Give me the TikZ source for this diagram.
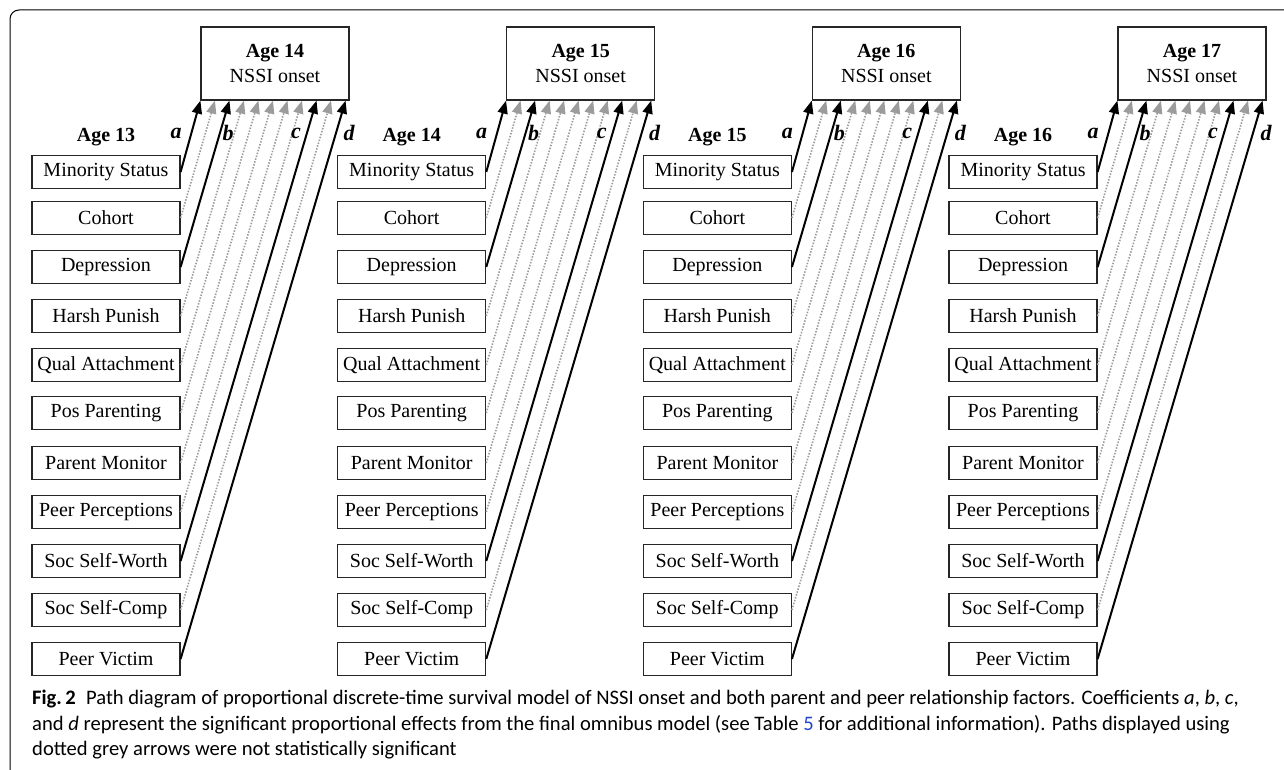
\documentclass[tikz,border=0pt]{standalone}
\usepackage{fontspec}
\setmainfont{Liberation Serif}
\newfontfamily\capfont{Carlito}
\usetikzlibrary{arrows.meta,calc}
\definecolor{dotgrey}{HTML}{9C9C9C}
\definecolor{linkblue}{HTML}{2244CC}
\definecolor{boxline}{HTML}{262626}
\begin{document}
\begin{tikzpicture}[x=1pt,y=-1pt,
  varbox/.style={draw=boxline, line width=1.2pt, minimum width=148pt, minimum height=33pt, inner sep=0pt, font=\fontsize{20}{22}\selectfont},
  outbox/.style={draw=boxline, line width=1.2pt, minimum width=148pt, minimum height=73pt, inner sep=0pt, align=center, font=\fontsize{20}{25}\selectfont},
  sigarrow/.style={draw=black, line width=2pt, -{Triangle[length=13pt,width=10pt]}},
  nsarrow/.style={draw=dotgrey, line width=1.6pt, dash pattern=on 1.5pt off 1.5pt, -{Triangle[length=13pt,width=10pt,fill=dotgrey,color=dotgrey]}},
  coef/.style={font=\fontsize{22}{24}\selectfont\bfseries\itshape},
  agelab/.style={font=\fontsize{20}{22}\selectfont\bfseries},
  frame/.style={draw=black, line width=1pt, rounded corners=9pt}]
\useasboundingbox (0,0) rectangle (1284,770);
\begin{scope}
\clip (0,0) rectangle (1284,770);
\draw[frame] (10,10) rectangle (1300,778);
\end{scope}
\foreach \p/\agein/\ageout in {0/13/14,1/14/15,2/15/16,3/16/17}{
  \pgfmathsetmacro{\ox}{\p*305.67}
  \node[outbox] (out\p) at (275+\ox,63.5) {\textbf{Age \ageout}\\NSSI onset};
  \node[agelab] (age\p) at (106+\ox,137) {Age \agein};
  \foreach \i/\txt/\y in {1/Minority Status/172,2/Cohort/218,3/Depression/267,4/Harsh Punish/316,5/Qual Attachment/365,6/Pos Parenting/413,7/Parent Monitor/463,8/Peer Perceptions/512,9/Soc Self-Worth/561,10/Soc Self-Comp/610,11/Peer Victim/659}{
    \node[varbox] (v\p-\i) at (106+\ox,\y) {\txt};
    \pgfmathsetmacro{\fr}{(\i-1)*14.4/148}
    \coordinate (t\p-\i) at ($(out\p.south west)!\fr!(out\p.south east)$);
  }
  \foreach \i in {2,4,5,6,7,8,10}{
    \draw[nsarrow] (v\p-\i.east) -- (t\p-\i);
  }
  \foreach \i in {1,3,9,11}{
    \draw[sigarrow] (v\p-\i.east) -- (t\p-\i);
  }
  \node[coef] (ca\p) at (176+\ox,133) {a};
  \node[coef] (cb\p) at (228+\ox,133) {b};
  \node[coef] (cc\p) at (296+\ox,133) {c};
  \node[coef] (cd\p) at (349+\ox,133) {d};
}
\node[anchor=north west, align=left, inner sep=0pt, font=\capfont\fontsize{20.6}{25.5}\selectfont] (cap) at (32,690)
{\textbf{Fig.\,2}\hspace{0.5em}Path diagram of proportional discrete-time survival model of NSSI onset and both parent and peer relationship factors. Coefficients \textit{a}, \textit{b}, \textit{c},\\
and \textit{d} represent the significant proportional effects from the final omnibus model (see Table \textcolor{linkblue}{5} for additional information). Paths displayed using\\
dotted grey arrows were not statistically significant};
\end{tikzpicture}
\end{document}
